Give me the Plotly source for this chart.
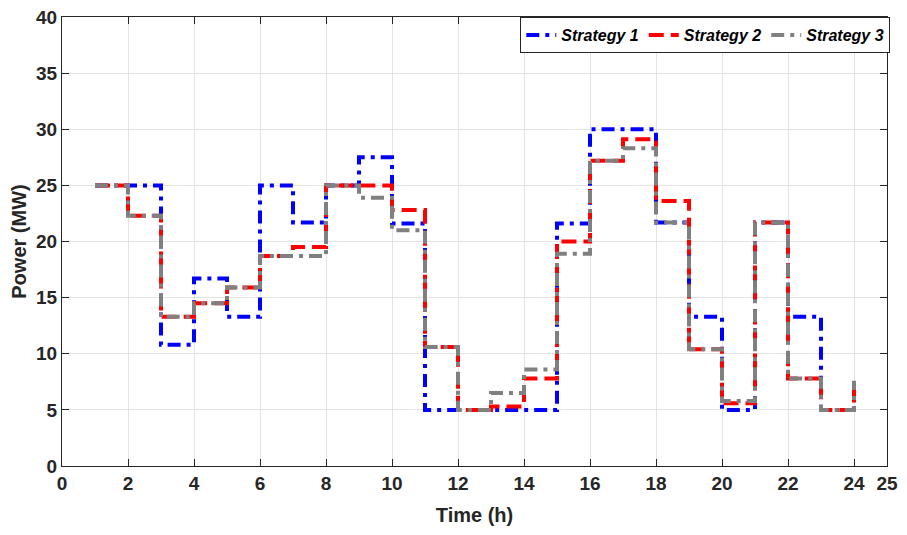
import plotly.graph_objects as go

hours = list(range(1, 25))
strategy1 = [25, 25, 10.8, 16.7, 13.3, 25, 21.7, 25, 27.5, 21.6, 5, 5, 5, 5, 21.6, 30, 30, 21.7, 13.3, 5, 21.7, 13.3, 5, 5]
strategy2 = [25, 22.3, 13.3, 14.5, 15.9, 18.7, 19.5, 25, 25, 22.8, 10.6, 5, 5.3, 7.8, 20.0, 27.2, 29.1, 23.6, 10.4, 5.6, 21.7, 7.8, 5, 7.6]
strategy3 = [25, 22.3, 13.3, 14.5, 15.9, 18.7, 18.7, 25, 23.9, 21.0, 10.6, 5, 6.5, 8.6, 18.9, 27.2, 28.3, 21.7, 10.4, 5.8, 21.7, 7.8, 5, 7.6]
x_ticks = [0, 2, 4, 6, 8, 10, 12, 14, 16, 18, 20, 22, 24, 25]
y_ticks = [0, 5, 10, 15, 20, 25, 30, 35, 40]

series = [
    ("Strategy 1", strategy1, "#0000FF", "13px,6px,4px,6px"),
    ("Strategy 2", strategy2, "#FF0000", "15px,7px"),
    ("Strategy 3", strategy3, "#808080", "13px,6px,4px,6px"),
]

fig = go.Figure()
for name, vals, color, dash in series:
    fig.add_trace(go.Scatter(
        x=hours, y=vals, mode="lines", name=name,
        line=dict(shape="hv", color=color, width=4, dash=dash),
    ))

font_family = "Liberation Sans, Arial, sans-serif"
fig.update_layout(
    width=907, height=535,
    margin=dict(l=54, r=28, t=9, b=77),
    paper_bgcolor="white", plot_bgcolor="white",
    font=dict(family=font_family, color="#262626"),
    showlegend=True,
    legend=dict(
        orientation="h", x=1.004, xanchor="right", y=1.0, yanchor="top",
        bgcolor="white", bordercolor="#262626", borderwidth=1,
        font=dict(family=font_family, size=16, color="black", weight="bold", style="italic"),
        itemwidth=30, tracegroupgap=0,
    ),
    xaxis=dict(
        range=[0, 25], tickvals=x_ticks, ticktext=[str(v) for v in x_ticks],
        showgrid=True, gridcolor="#E3E3E3", gridwidth=1,
        showline=True, linecolor="#262626", linewidth=1, mirror="ticks",
        ticks="inside", ticklen=7, tickcolor="#262626",
        tickfont=dict(family=font_family, size=19, weight="bold", color="#262626"),
        title=dict(text="Time (h)", font=dict(family=font_family, size=20, weight="bold", color="#262626")),
        zeroline=False, automargin=False, ticklabeloverflow="allow",
    ),
    yaxis=dict(
        range=[0, 40], tickvals=y_ticks,
        showgrid=True, gridcolor="#E3E3E3", gridwidth=1,
        showline=True, linecolor="#262626", linewidth=1, mirror="ticks",
        ticks="inside", ticklen=7, tickcolor="#262626",
        tickfont=dict(family=font_family, size=19, weight="bold", color="#262626"),
        title=dict(text="Power (MW)", font=dict(family=font_family, size=20, weight="bold", color="#262626")),
        zeroline=False, automargin=False, ticklabeloverflow="allow",
    ),
)

fig.write_html("out.html")
